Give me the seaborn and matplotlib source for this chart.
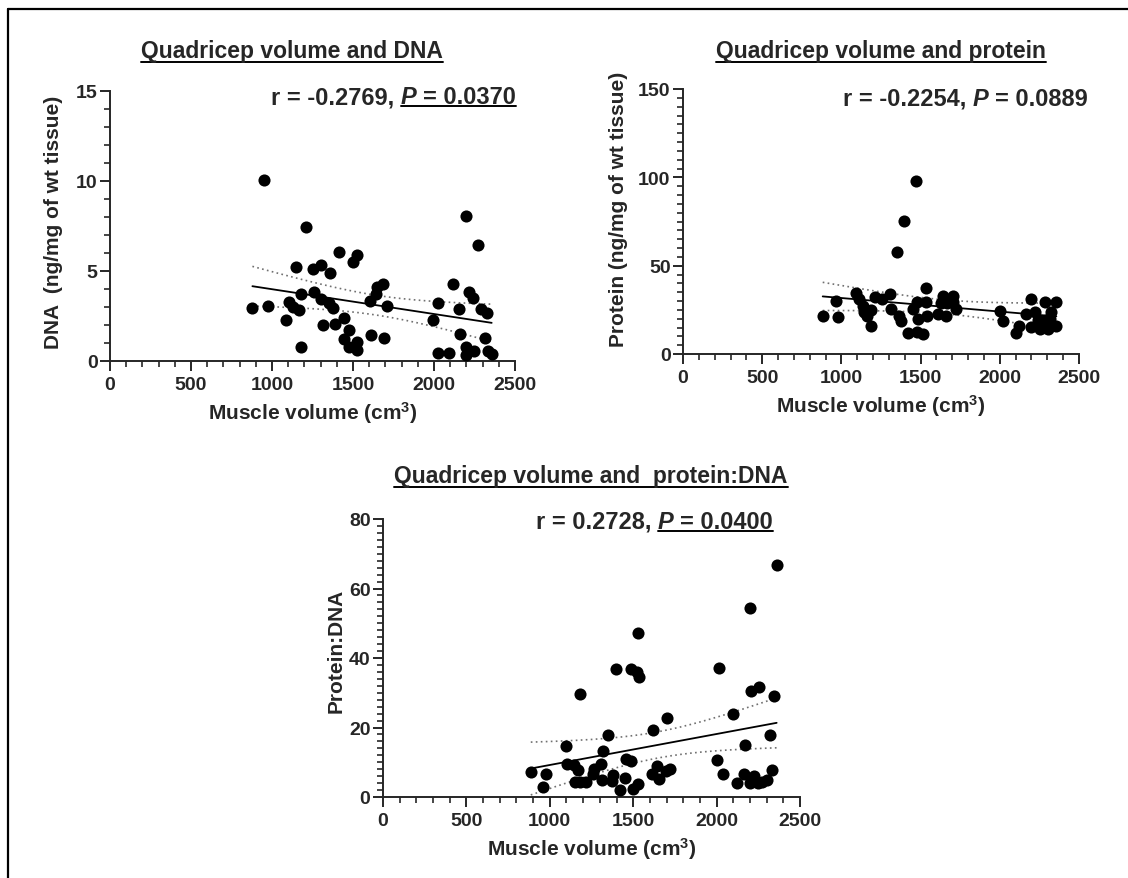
import numpy as np
import pandas as pd
import matplotlib
matplotlib.use("Agg")
import matplotlib.pyplot as plt
import seaborn as sns
from matplotlib.ticker import MultipleLocator
from matplotlib.lines import Line2D

# ---------------- data ----------------
dna_volume = [879, 951, 977, 1086, 1107, 1128, 1148, 1169, 1179, 1179, 1208, 1251, 1261, 1302, 1302,
              1313, 1354, 1358, 1374, 1389, 1416, 1446, 1446, 1477, 1477, 1498, 1523, 1527, 1523, 1605,
              1611, 1640, 1646, 1687, 1691, 1708, 1996, 2023, 2027, 2095, 2115, 2156, 2160, 2195, 2198,
              2198, 2218, 2243, 2247, 2274, 2290, 2325, 2315, 2335, 2356]
dna_values = [2.96, 10.06, 3.06, 2.26, 3.28, 3.0, 5.22, 2.81, 3.70, 0.80, 7.44, 5.13, 3.85, 5.31, 3.43,
              1.98, 3.24, 4.91, 2.96, 2.04, 6.06, 2.39, 1.24, 1.72, 0.78, 5.5, 5.89, 1.07, 0.61, 3.33,
              1.43, 3.70, 4.11, 4.30, 1.28, 3.06, 2.26, 0.46, 3.24, 0.46, 4.30, 2.87, 1.48, 8.06, 0.78,
              0.31, 3.85, 3.48, 0.56, 6.46, 2.91, 2.65, 1.30, 0.56, 0.41]

protein_volume = [882, 964, 981, 1092, 1113, 1134, 1145, 1160, 1187, 1185, 1212, 1258, 1307, 1313, 1353,
                  1366, 1376, 1397, 1418, 1450, 1471, 1475, 1485, 1479, 1513, 1534, 1534, 1538, 1611, 1626,
                  1643, 1660, 1664, 1702, 1706, 1723, 2000, 2021, 2101, 2122, 2164, 2195, 2200, 2221, 2242,
                  2252, 2284, 2305, 2315, 2326, 2353, 2357, 2294]
protein_values = [21.3, 30.2, 20.8, 34.3, 31.1, 27.4, 23.6, 21.7, 25.1, 16.0, 32.1, 31.1, 34.0, 25.5, 57.9,
                  21.3, 18.9, 75.5, 11.9, 25.5, 98.1, 29.2, 19.8, 12.3, 11.3, 37.2, 29.2, 21.3, 22.6, 28.9,
                  33.0, 21.3, 28.9, 33.0, 29.2, 25.5, 24.5, 18.9, 11.9, 16.0, 22.6, 31.1, 15.1, 23.6, 19.4,
                  14.2, 29.6, 14.2, 19.8, 23.6, 16.0, 29.6, 19.4]

ratio_volume = [886, 960, 980, 1096, 1106, 1144, 1170, 1150, 1184, 1184, 1216, 1256, 1264, 1306, 1316,
                1314, 1350, 1370, 1380, 1394, 1420, 1450, 1456, 1486, 1486, 1500, 1520, 1526, 1530, 1534,
                1610, 1616, 1640, 1656, 1696, 1700, 1720, 2000, 2016, 2036, 2100, 2120, 2164, 2170, 2200,
                2200, 2206, 2226, 2246, 2256, 2270, 2300, 2320, 2330, 2346, 2360]
ratio_values = [7.2, 2.9, 6.7, 14.8, 9.6, 9.1, 7.9, 4.3, 29.7, 4.3, 4.3, 6.7, 8.1, 9.6, 13.1,
                4.8, 17.7, 4.5, 6.4, 36.7, 1.9, 5.5, 10.8, 10.5, 36.7, 2.2, 36.1, 47.2, 3.6, 34.5,
                6.7, 19.4, 8.9, 5.3, 7.5, 22.7, 8.1, 10.7, 37.1, 6.5, 23.9, 4.0, 6.7, 15.1, 54.3,
                4.0, 30.4, 5.9, 4.0, 31.6, 4.3, 4.8, 17.9, 7.7, 29.2, 66.8]

titles = ["Quadricep volume and DNA", "Quadricep volume and protein", "Quadricep volume and  protein:DNA"]
ylabels = ["DNA  (ng/mg of wt tissue)", "Protein (ng/mg of wt tissue)", "Protein:DNA"]
xlabel = r"Muscle volume (cm$^3$)"
r_texts = ["r = -0.2769,", "r = -0.2254,", "r = 0.2728,"]
p_texts = ["= 0.0370", "= 0.0889", "= 0.0400"]
p_underlined = [True, False, True]
x_ticks = [0, 500, 1000, 1500, 2000, 2500]
y_ticks = [[0, 5, 10, 15], [0, 50, 100, 150], [0, 20, 40, 60, 80]]

# ---------------- style ----------------
sns.set_style("ticks")
plt.rcParams["font.family"] = ["Liberation Sans", "DejaVu Sans"]
plt.rcParams["font.weight"] = "bold"
plt.rcParams["axes.labelweight"] = "bold"
plt.rcParams["mathtext.default"] = "regular"

W, H = 1128, 879
fig = plt.figure(figsize=(W / 100, H / 100), dpi=100)
fig.patch.set_facecolor("white")


def rect(l, t, r, b):
    return [l / W, 1 - b / H, (r - l) / W, (b - t) / H]


panel_rects = [rect(110, 92, 515, 362), rect(683, 90, 1079, 355), rect(383, 520, 800, 798)]
ylab_coords = [(-0.116, 0.517), (-0.139, 0.551), (-0.089, 0.529)]
y_minor = [1, 5, 2]
datasets = [(dna_volume, dna_values), (protein_volume, protein_values), (ratio_volume, ratio_values)]

axes = []
for i, (xv, yv) in enumerate(datasets):
    ax = fig.add_axes(panel_rects[i])
    axes.append(ax)
    df = pd.DataFrame({"volume": xv, "value": yv})
    sns.scatterplot(data=df, x="volume", y="value", ax=ax, color="black", s=76,
                    linewidth=0, clip_on=False, zorder=4)
    sns.regplot(data=df, x="volume", y="value", ax=ax, scatter=False, ci=None,
                color="black", line_kws=dict(lw=1.3, zorder=3))
    # 95% confidence band of regression line (dotted)
    x = np.asarray(xv, float)
    y = np.asarray(yv, float)
    n = len(x)
    b, a = np.polyfit(x, y, 1)
    resid = y - (a + b * x)
    s = np.sqrt(np.sum(resid ** 2) / (n - 2))
    xbar = x.mean()
    sxx = np.sum((x - xbar) ** 2)
    xs = np.linspace(x.min(), x.max(), 200)
    se = s * np.sqrt(1 / n + (xs - xbar) ** 2 / sxx)
    for sign in (1, -1):
        ax.plot(xs, a + b * xs + sign * 2.006 * se, color="#707070", lw=1.2,
                ls=(0, (1, 2)), zorder=2)

    ax.set_xlim(0, 2500)
    ax.set_ylim(y_ticks[i][0], y_ticks[i][-1])
    ax.set_xticks(x_ticks)
    ax.set_yticks(y_ticks[i])
    ax.xaxis.set_minor_locator(MultipleLocator(100))
    ax.yaxis.set_minor_locator(MultipleLocator(y_minor[i]))
    sns.despine(ax=ax)
    for sp in ("left", "bottom"):
        ax.spines[sp].set_linewidth(1.4)
    ax.tick_params(which="major", length=7, width=1.4, labelsize=14)
    ax.tick_params(which="minor", length=4, width=1.2)
    ax.tick_params(axis="x", which="major", pad=4)
    ax.tick_params(axis="y", which="major", pad=2)
    for lab in ax.get_xticklabels() + ax.get_yticklabels():
        lab.set_fontweight("bold")
    ax.set_xlabel(xlabel, fontsize=15, fontweight="bold", labelpad=4)
    ax.set_ylabel(ylabels[i], fontsize=15, fontweight="bold")
    ax.yaxis.set_label_coords(*ylab_coords[i])

renderer = fig.canvas.get_renderer()


def hline(x0, x1, y_top, lw=1.4):
    fig.add_artist(Line2D([x0 / W, x1 / W], [1 - y_top / H, 1 - y_top / H],
                          transform=fig.transFigure, color="black", lw=lw))


# titles with underline
title_pos = [(292, 58), (881, 58), (591, 483)]
for i, t in enumerate(titles):
    cx, base = title_pos[i]
    txt = fig.text(cx / W, 1 - base / H, t, fontsize=16.5, fontweight="bold",
                   ha="center", va="baseline")
    bb = txt.get_window_extent(renderer)
    hline(bb.x0, bb.x1, base + 4.5)

# r / P annotations
ann_pos = [(516, 104), (1088, 106), (773, 529)]
fs = 17
probe1 = fig.text(0, 0, "a a", fontsize=fs, fontweight="bold")
probe2 = fig.text(0, 0, "aa", fontsize=fs, fontweight="bold")
space_w = probe1.get_window_extent(renderer).width - probe2.get_window_extent(renderer).width
probe1.remove()
probe2.remove()
for i in range(3):
    xr, base = ann_pos[i]
    parts = [(r_texts[i], "normal"), ("P", "italic"), (p_texts[i], "normal")]
    objs = []
    widths = []
    for s, style in parts:
        t = fig.text(0, 1 - base / H, s, fontsize=fs, fontweight="bold", fontstyle=style,
                     ha="left", va="baseline")
        objs.append(t)
        widths.append(t.get_window_extent(renderer).width)
    total = sum(widths) + space_w * (len(parts) - 1)
    xpos = xr - total
    starts = []
    for t, w in zip(objs, widths):
        t.set_x(xpos / W)
        starts.append(xpos)
        xpos += w + space_w
    if p_underlined[i]:
        hline(starts[1], xr, base + 2.5, lw=1.4)

# partial frame around the figure (top and left edges)
fig.add_artist(Line2D([8 / W, 1], [1 - 10 / H, 1 - 10 / H], transform=fig.transFigure,
                      color="black", lw=1.6))
fig.add_artist(Line2D([8 / W, 8 / W], [0, 1 - 10 / H], transform=fig.transFigure,
                      color="black", lw=1.6))

fig.savefig("out.png", dpi=100, facecolor="white")
